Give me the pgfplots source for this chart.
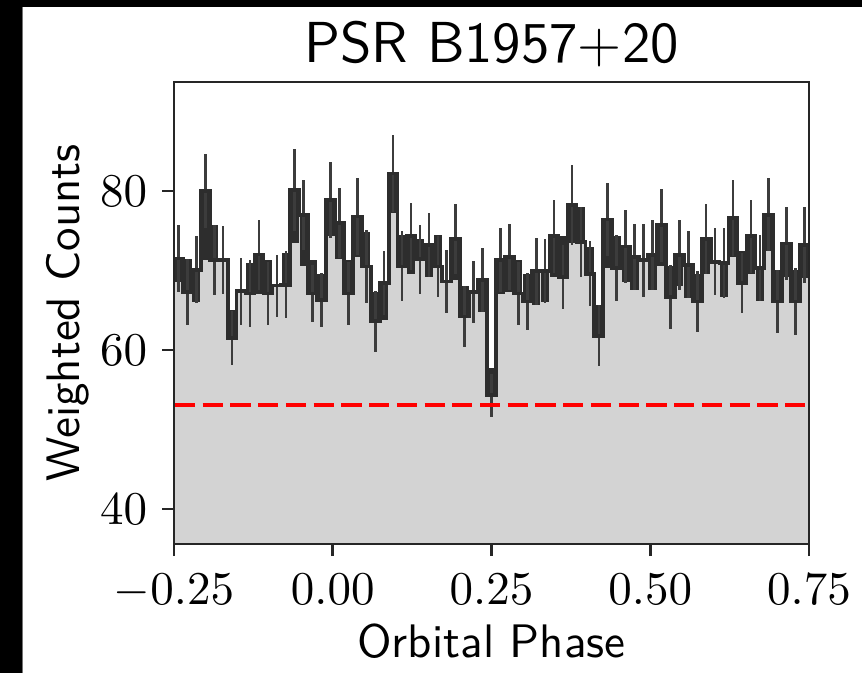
\documentclass[border=0pt]{standalone}
\usepackage{pgfplots}
\usepackage{pgfplotstable}
\pgfplotsset{compat=1.18}
\definecolor{fillgray}{RGB}{211,211,211}
\definecolor{darkline}{RGB}{45,45,45}
\definecolor{errline}{RGB}{60,60,60}
\pgfplotstableread{
k v e b
0 71.5 4.2 68.5
1 67.3 4.1 71.4
2 70.1 4.2 66.0
3 80.0 4.7 71.3
4 71.3 4.4 75.7
5 71.3 4.3 71.3
6 61.5 3.4 65.0
7 67.4 4.2 67.4
8 67.1 4.2 70.9
9 72.0 4.4 67.1
10 67.1 4.0 71.3
11 68.1 3.9 68.1
12 68.2 4.2 72.2
13 80.1 5.2 73.4
14 77.0 4.4 70.5
15 67.1 3.6 71.3
16 66.3 3.4 69.6
17 78.9 4.8 74.3
18 76.0 4.4 71.5
19 67.1 4.0 71.3
20 76.8 4.8 71.7
21 70.5 4.6 74.9
22 63.6 3.8 67.3
23 68.4 4.0 63.8
24 82.2 4.8 77.2
25 70.5 4.4 74.5
26 74.3 4.2 69.6
27 71.4 4.3 74.0
28 73.2 4.0 69.2
29 70.5 3.8 74.5
30 68.6 4.0 68.6
31 74.0 4.4 68.8
32 64.2 3.8 68.0
33 67.3 3.9 67.3
34 68.8 4.0 64.8
35 54.3 2.7 57.7
36 71.3 4.0 67.1
37 71.7 4.2 67.3
38 67.1 4.0 71.3
39 66.1 3.6 69.6
40 69.9 4.2 65.7
41 69.9 4.0 66.0
42 74.3 4.6 69.2
43 69.2 4.0 74.3
44 78.2 5.0 73.4
45 73.6 4.4 78.0
46 69.6 4.1 73.0
47 61.8 3.8 65.7
48 76.4 4.6 70.3
49 70.3 4.2 74.3
50 73.0 4.6 68.6
51 71.7 4.2 67.6
52 71.3 4.6 71.3
53 71.9 4.4 67.6
54 75.7 4.6 70.5
55 66.7 4.0 70.5
56 71.9 4.4 68.0
57 70.7 4.2 66.5
58 66.1 3.8 69.6
59 74.0 4.4 69.6
60 71.1 4.2 71.1
61 70.9 4.4 66.7
62 76.6 4.8 71.7
63 68.4 3.8 72.4
64 74.3 4.6 69.6
65 70.3 4.2 66.1
66 77.0 4.6 72.4
67 66.1 4.0 70.1
68 73.4 4.6 69.2
69 66.1 4.2 70.1
70 73.2 4.8 69.0
71 73.2 0 73.2
}\phasedata
\begin{document}
\begin{tikzpicture}
\begin{axis}[
  at={(0,0)}, anchor=south west,
  scale only axis,
  width=135.1pt, height=98.3pt,
  xmin=-0.25, xmax=0.75, ymin=35.6, ymax=93.7,
  axis line style={line width=0.6pt, black!85},
  tick align=outside, major tick length=2.55pt,
  tick style={line width=0.6pt, black!85},
  xtick pos=bottom, ytick pos=left,
  xtick={-0.25,0,0.25,0.5,0.75},
  xticklabels={$-0.25$,$0.00$,$0.25$,$0.50$,$0.75$},
  ytick={40,60,80},
  yticklabels={$40$,$60$,$80$},
  tick label style={font=\fontsize{9.7}{11}\selectfont},
  xticklabel style={anchor=base, inner sep=0pt, yshift=-10.4pt},
  yticklabel style={anchor=east, inner sep=0pt, xshift=-2.95pt},
  minor tick num=0,
  every axis title shift=0pt,
  title={PSR B1957+20},
  title style={at={(axis description cs:0.5,1.0411)}, anchor=base, font=\sffamily\fontsize{12.3}{14}\selectfont, inner sep=0pt},
  xlabel={Orbital Phase},
  xlabel style={at={(axis description cs:0.5,-0.2446)}, anchor=base, font=\sffamily, inner sep=0pt},
  ylabel={Weighted Counts},
  ylabel style={at={(axis description cs:-0.167,0.5)}, anchor=center, rotate=0, font=\sffamily, inner sep=0pt},
  clip=true,
  axis on top,
]
\addplot[fill=fillgray, draw=none, const plot mark left]
  table[x expr={-0.25+\thisrow{k}/71}, y=v] {\phasedata} \closedcycle;
% blocks
\addplot[draw=none, mark=none, forget plot,
  error bars/.cd, y dir=both, y explicit, error mark=none,
  error bar style={draw=darkline, solid, line width=1.75pt, line cap=butt}]
  table[x expr={-0.25+(\thisrow{k}+0.5)/71}, y expr={(\thisrow{v}+\thisrow{b})/2}, y error expr={abs(\thisrow{v}-\thisrow{b})/2}] {\phasedata};
% error bars
\addplot[draw=none, mark=none, forget plot,
  error bars/.cd, y dir=both, y explicit, error mark=none,
  error bar style={draw=errline, solid, line width=0.55pt, line cap=butt}]
  table[x expr={-0.25+(\thisrow{k}+0.5)/71}, y=v, y error=e] {\phasedata};
% step line
\addplot[const plot mark left, line width=0.8pt, color=darkline, line join=miter, mark=none]
  table[x expr={-0.25+\thisrow{k}/71}, y=v] {\phasedata};
\addplot[red, line width=1pt, dash pattern=on 4.3pt off 1.6pt, mark=none] coordinates {(-0.2485,53.08) (0.75,53.08)};
\end{axis}
\fill[black] (-37.02pt,-27.45pt) rectangle (-32.34pt,115.74pt);
\fill[black] (-37.02pt,114.25pt) rectangle (146.38pt,115.74pt);
\draw[black!55, line width=0.3pt] (-32.2pt,-27.45pt) -- (-32.2pt,114.25pt);
\pgfresetboundingbox
\useasboundingbox (-37.02pt,-27.45pt) rectangle (146.38pt,115.74pt);
\end{tikzpicture}
\end{document}
